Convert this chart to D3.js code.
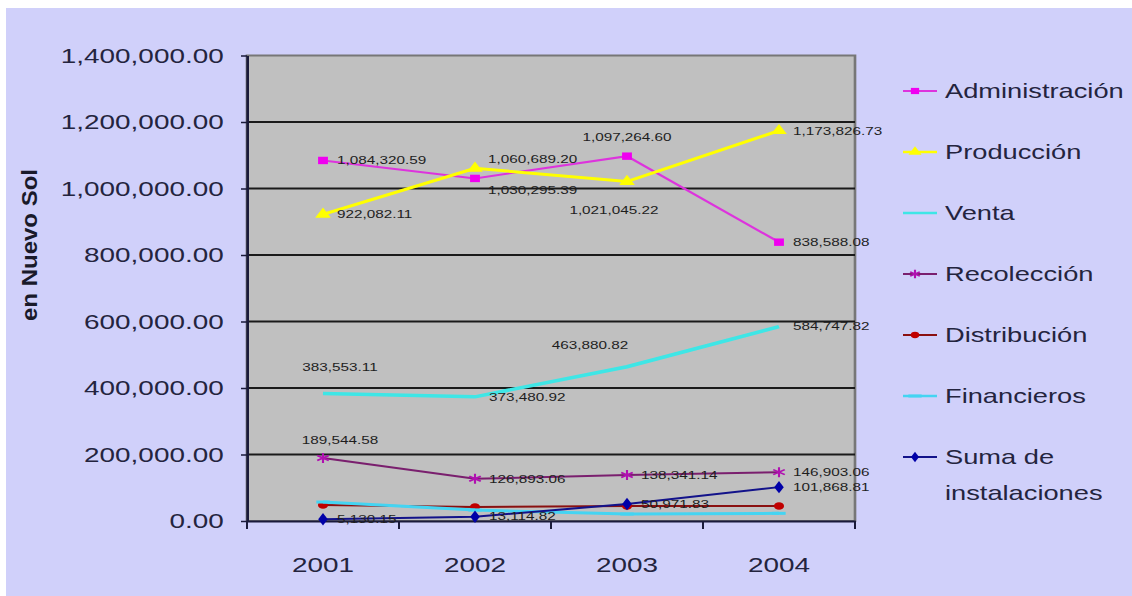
<!DOCTYPE html>
<html>
<head>
<meta charset="utf-8">
<script src="https://cdn.jsdelivr.net/npm/d3@7"></script>
<style>
  html, body { margin: 0; padding: 0; background: #fff; }
  svg { display: block; }
  text { font-family: "Liberation Sans", Arial, sans-serif; }
</style>
</head>
<body>
<div id="chart"></div>
<script>
// values
const years = ["2001", "2002", "2003", "2004"];
const administracion = [1084320.59, 1030295.39, 1097264.60, 838588.08];
const produccion = [922082.11, 1060689.20, 1021045.22, 1173826.73];
const venta = [383553.11, 373480.92, 463880.82, 584747.82];
const recoleccion = [189544.58, 126893.06, 138341.14, 146903.06];
const distribucion = [48000, 42000, 45000, 45000];
const financieros = [57000, 33000, 21000, 23000];
const sumaInstalaciones = [5130.15, 13114.82, 50971.83, 101868.81];
const seriesNames = ["Administración", "Producción", "Venta", "Recolección",
                     "Distribución", "Financieros", "Suma de instalaciones"];
const yTicks = [0, 200000, 400000, 600000, 800000, 1000000, 1200000, 1400000];

const seriesValues = [administracion, produccion, venta, recoleccion,
                      distribucion, financieros, sumaInstalaciones];

// the source picture is stretched sideways, so draw in a narrower box and stretch it
const SX = 1.33;
const W = 1132 / SX, H = 596;

const styles = {
  "Administración": {line: "#dd33dd", mark: "#f000f0", width: 2, symbol: d3.symbolSquare, size: 55, labels: true},
  "Producción": {line: "#ffff00", mark: "#ffff00", width: 3, symbol: d3.symbolTriangle, size: 60, labels: true},
  "Venta": {line: "#3ee6e6", mark: "#3ee6e6", width: 3.5, symbol: null, labels: true},
  "Recolección": {line: "#7a1f6e", mark: "#b010b0", width: 2, symbol: d3.symbolAsterisk, size: 70, stroke: true, labels: true},
  "Distribución": {line: "#8a1010", mark: "#c00000", width: 2, symbol: d3.symbolCircle, size: 45, labels: false},
  "Financieros": {line: "#44d4f2", mark: "#44d4f2", width: 3, symbol: "dash", labels: false},
  "Suma de instalaciones": {line: "#12128a", mark: "#0000a8", width: 2, symbol: d3.symbolDiamond, size: 45, labels: true}
};

// label placement: [anchor, dx, dy] in screen px, default is right of the point
const labelPlace = {
  "Administración|2002": ["start", 13, 12],
  "Administración|2003": ["middle", 0, -19],
  "Producción|2002": ["start", 13, -9],
  "Producción|2003": ["middle", -13, 29],
  "Venta|2001": ["middle", 17, -26],
  "Venta|2003": ["middle", -37, -22],
  "Recolección|2001": ["middle", 17, -18]
};

const plot = {left: 247 / SX, right: 855 / SX, top: 55.5, bottom: 521};

const svg = d3.select("#chart").append("svg")
  .attr("width", 1132).attr("height", 596)
  .attr("viewBox", `0 0 ${W} ${H}`)
  .attr("preserveAspectRatio", "none");

svg.append("rect").attr("width", W).attr("height", H).attr("fill", "#fff");
svg.append("rect").attr("x", 6 / SX).attr("y", 8).attr("width", W).attr("height", H)
  .attr("fill", "#d0d0fa");

const x = d3.scaleBand().domain(years).range([plot.left, plot.right]);
const y = d3.scaleLinear().domain([0, 1400000]).range([plot.bottom, plot.top]);
const cx = d => x(d) + x.bandwidth() / 2;

// plot area
svg.append("rect")
  .attr("x", plot.left).attr("y", plot.top)
  .attr("width", plot.right - plot.left).attr("height", plot.bottom - plot.top)
  .attr("fill", "#c0c0c0").attr("stroke", "#777").attr("stroke-width", 2);

svg.append("g").selectAll("line")
  .data(yTicks.filter(t => t > 0 && t < 1400000))
  .join("line")
  .attr("x1", plot.left).attr("x2", plot.right)
  .attr("y1", d => y(d)).attr("y2", d => y(d))
  .attr("stroke", "#1a1a1a").attr("stroke-width", 2);

// y axis
const yAxis = svg.append("g")
  .attr("transform", `translate(${plot.left},0)`)
  .call(d3.axisLeft(y).tickValues(yTicks).tickFormat(d3.format(",.2f"))
    .tickSize(6 / SX).tickPadding(13).tickSizeOuter(0));
yAxis.select(".domain").attr("stroke", "#1a1a3a").attr("stroke-width", 2);
yAxis.selectAll(".tick line").attr("stroke", "#1a1a3a").attr("stroke-width", 1.5);
yAxis.selectAll("text").attr("font-size", 21).attr("fill", "#24243e")
  .style("font-family", "'Liberation Sans', Arial, sans-serif");

// x axis
const xAxis = svg.append("g")
  .attr("transform", `translate(0,${plot.bottom})`)
  .call(d3.axisBottom(x).tickSize(0).tickPadding(36).tickSizeOuter(0));
xAxis.select(".domain").attr("stroke", "#1a1a3a").attr("stroke-width", 2);
xAxis.selectAll("text").attr("font-size", 21).attr("fill", "#24243e")
  .style("font-family", "'Liberation Sans', Arial, sans-serif");
xAxis.selectAll(".bound")
  .data(years.map(d => x(d)).concat([plot.right]))
  .join("line").attr("class", "bound")
  .attr("x1", d => d).attr("x2", d => d)
  .attr("y1", 0).attr("y2", 8)
  .attr("stroke", "#1a1a3a").attr("stroke-width", 1.5);

// axis title
svg.append("text")
  .attr("transform", `translate(${22},${245}) rotate(-90)`)
  .attr("text-anchor", "middle")
  .attr("dominant-baseline", "central")
  .attr("font-size", 16).attr("font-weight", "bold").attr("fill", "#1a1a2a")
  .attr("textLength", 152).attr("lengthAdjust", "spacingAndGlyphs")
  .text("en Nuevo Sol");

function drawMarker(g, st, px, py) {
  if (!st.symbol) return;
  if (st.symbol === "dash") {
    g.append("rect").attr("x", px - 5).attr("y", py - 1.5).attr("width", 10).attr("height", 3)
      .attr("fill", st.mark);
    return;
  }
  const p = g.append("path")
    .attr("transform", `translate(${px},${py})`)
    .attr("d", d3.symbol(st.symbol, st.size)());
  if (st.stroke) p.attr("fill", "none").attr("stroke", st.mark).attr("stroke-width", 1.6);
  else p.attr("fill", st.mark);
}

const line = d3.line().x(d => cx(d.year)).y(d => y(d.value));

seriesNames.forEach((name, i) => {
  const st = styles[name];
  const pts = years.map((yr, j) => ({year: yr, value: seriesValues[i][j]}));
  const g = svg.append("g");
  g.append("path").datum(pts)
    .attr("d", line).attr("fill", "none")
    .attr("stroke", st.line).attr("stroke-width", st.width);
  pts.forEach(p => drawMarker(g, st, cx(p.year), y(p.value)));
});

// data labels on top
seriesNames.forEach((name, i) => {
  const st = styles[name];
  if (!st.labels) return;
  years.forEach((yr, j) => {
    const v = seriesValues[i][j];
    const pl = labelPlace[name + "|" + yr] || ["start", 14, 0];
    svg.append("text")
      .attr("x", cx(yr) + pl[1] / SX)
      .attr("y", y(v) + pl[2])
      .attr("text-anchor", pl[0])
      .attr("dominant-baseline", "central")
      .attr("font-size", 11.5).attr("fill", "#1e1e1e")
      .text(d3.format(",.2f")(v));
  });
});

// legend
const legend = svg.append("g");
seriesNames.forEach((name, i) => {
  const st = styles[name];
  const ly = 91 + i * 61;
  const g = legend.append("g");
  g.append("line").attr("x1", 903 / SX).attr("x2", 937 / SX).attr("y1", ly).attr("y2", ly)
    .attr("stroke", st.line).attr("stroke-width", st.width > 2.5 ? 2.5 : 2);
  drawMarker(g, Object.assign({}, st, {size: (st.size || 40) * 0.7}), 915 / SX, ly);
  const words = name === "Suma de instalaciones" ? ["Suma de", "instalaciones"] : [name];
  words.forEach((w, k) => {
    g.append("text").attr("x", 945 / SX).attr("y", ly + k * 36)
      .attr("dominant-baseline", "central")
      .attr("font-size", 20.5).attr("fill", "#24243e")
      .text(w);
  });
});
</script>
</body>
</html>
